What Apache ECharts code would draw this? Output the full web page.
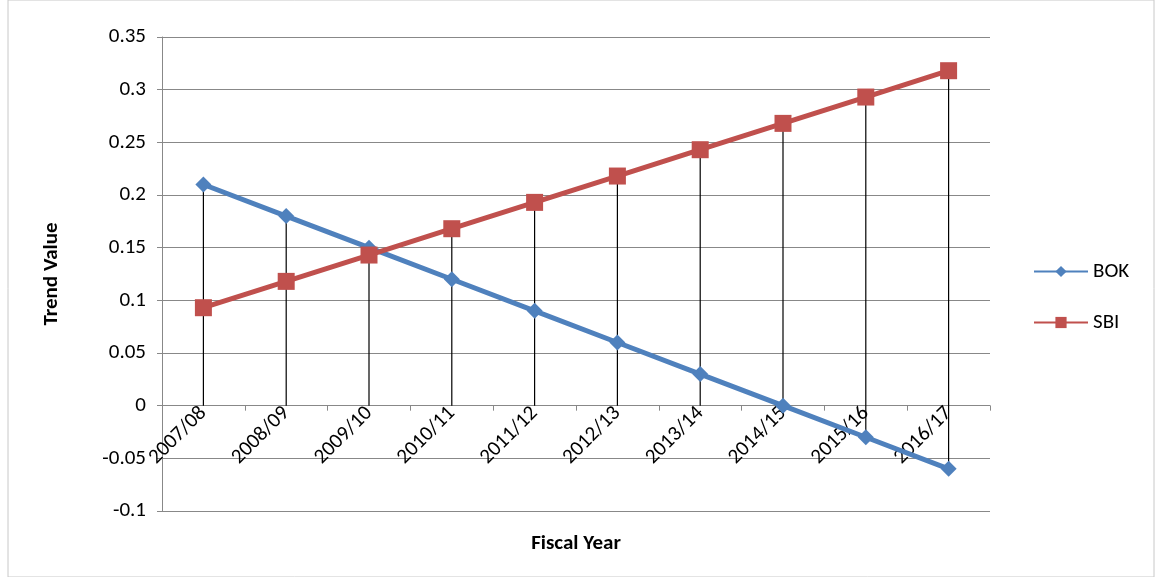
<!DOCTYPE html>
<html><head><meta charset="utf-8">
<script src="https://cdn.jsdelivr.net/npm/echarts@6/dist/echarts.min.js"></script>
<style>html,body{margin:0;padding:0;background:#fff}#c{width:1155px;height:577px}</style>
</head><body><div id="c"></div>
<script>
var years = ['2007/08','2008/09','2009/10','2010/11','2011/12','2012/13','2013/14','2014/15','2015/16','2016/17'];
var bok = [0.21,0.18,0.15,0.12,0.09,0.06,0.03,0,-0.03,-0.06];
var sbi = [0.093,0.118,0.143,0.168,0.193,0.218,0.243,0.268,0.293,0.318];

// drop lines: from highest point down to axis (or lowest point when negative)
var drops = years.map(function (y, i) {
    return [i, Math.max(bok[i], sbi[i], 0), Math.min(bok[i], sbi[i], 0)];
});

var chart = echarts.init(document.getElementById('c'));
chart.setOption({
    animation: false,
    textStyle: {fontFamily: 'Carlito, "Liberation Sans", Arial, sans-serif'},
    graphic: [{type: 'rect', shape: {x: 8, y: 0, width: 1146, height: 577},
        style: {fill: 'none', stroke: '#c8c8c8', lineWidth: 1}, silent: true}],
    grid: {left: 162, right: 165, top: 37, bottom: 66, containLabel: false, outerBoundsMode: 'none'},
    legend: {
        orient: 'vertical', left: 1028, top: 256, itemGap: 30, itemWidth: 54, itemHeight: 14,
        textStyle: {fontSize: 21, color: '#000'},
        data: ['BOK', 'SBI']
    },
    xAxis: {
        type: 'category', data: years,
        name: 'Fiscal Year', nameLocation: 'middle', nameGap: 22,
        nameTextStyle: {fontSize: 21, fontWeight: 'bold', color: '#000'},
        axisLine: {onZero: true, lineStyle: {color: '#888'}},
        axisTick: {show: true, lineStyle: {color: '#888'}},
        axisLabel: {rotate: 45, fontSize: 21, color: '#000', margin: -101, interval: 0}
    },
    yAxis: {
        type: 'value', min: -0.1, max: 0.35, interval: 0.05,
        name: 'Trend Value', nameLocation: 'middle', nameGap: 100,
        nameTextStyle: {fontSize: 21, fontWeight: 'bold', color: '#000'},
        axisLine: {show: true, lineStyle: {color: '#888'}},
        axisTick: {show: true, lineStyle: {color: '#888'}},
        splitLine: {lineStyle: {color: '#888'}},
        axisLabel: {fontSize: 21, color: '#000', margin: 16,
            formatter: function (v) { return String(Math.round(v * 100) / 100); }}
    },
    series: [
        {
            type: 'custom', silent: true, z: 1,
            renderItem: function (params, api) {
                var a = api.coord([api.value(0), api.value(1)]);
                var b = api.coord([api.value(0), api.value(2)]);
                return {type: 'line', shape: {x1: a[0], y1: a[1], x2: b[0], y2: b[1]},
                    style: {stroke: '#000', lineWidth: 1.2}};
            },
            data: drops
        },
        {name: 'BOK', type: 'line', data: bok, z: 3, symbol: 'diamond', symbolSize: 16,
            lineStyle: {color: '#4F81BD', width: 5}, itemStyle: {color: '#4F81BD'}},
        {name: 'SBI', type: 'line', data: sbi, z: 3, symbol: 'rect', symbolSize: 17,
            lineStyle: {color: '#C0504D', width: 5}, itemStyle: {color: '#C0504D'}}
    ]
});
</script></body></html>
